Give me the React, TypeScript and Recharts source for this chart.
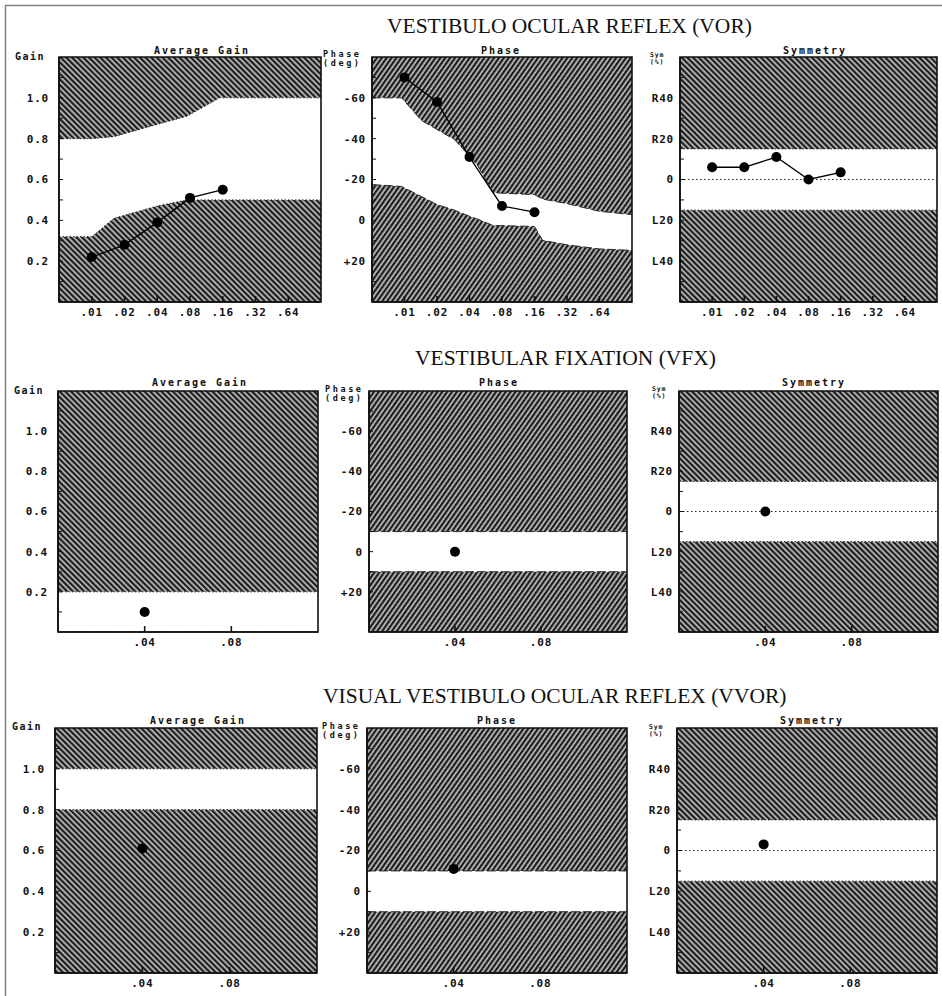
import React from 'react';
import {
  ComposedChart,
  Area,
  Line,
  XAxis,
  YAxis,
  CartesianGrid,
  ReferenceLine,
  ReferenceArea,
} from 'recharts';

// rotational chair sweep frequencies (Hz)
const vorFreqs = [0.01, 0.02, 0.04, 0.08, 0.16];
const vorTicks = [0.01, 0.02, 0.04, 0.08, 0.16, 0.32, 0.64];
const vorGain = [0.22, 0.28, 0.39, 0.51, 0.55];
const vorPhase = [-70, -58, -31, -7, -4];
const vorSym = [6, 6, 11, 0, 3.5];

// normal limits for the VOR sweep
const gainBandFreqs = [0.005, 0.01, 0.016, 0.04, 0.075, 0.15, 1.28];
const gainBandLow = [0.32, 0.32, 0.41, 0.47, 0.5, 0.5, 0.5];
const gainBandHigh = [0.8, 0.8, 0.81, 0.87, 0.91, 1.0, 1.0];

const phaseBandFreqs = [0.005, 0.0094, 0.0143, 0.02, 0.029, 0.04, 0.048, 0.066, 0.16, 0.19, 0.32, 0.64, 1.28];
const phaseBandLead = [-60, -60, -49, -44.5, -39.6, -31.4, -26.5, -13.5, -12.6, -10.4, -8.2, -4.4, -2.8];
const phaseBandLag = [-17.5, -16.6, -11.7, -7.7, -5, -2, -0.5, 2.5, 3, 9.8, 12, 14, 14.7];

// single frequency tests
const singleFreq = [0.04];
const linTicks = [0.04, 0.08];
const linBandFreqs = [0, 0.12];
const vfxGain = [0.1];
const vfxPhase = [0];
const vfxSym = [0];
const vvorGain = [0.61];
const vvorPhase = [-11];
const vvorSym = [3];
const vfxGainBand = [0, 0.2];
const vvorGainBand = [0.8, 1.0];
const fixedPhaseBand = [-10, 10];
const symBand = [-15, 15];

// y axes
const gainTicks = [0.2, 0.4, 0.6, 0.8, 1.0];
const gainMinor = [0.1, 0.2, 0.3, 0.4, 0.5, 0.6, 0.7, 0.8, 0.9, 1.0, 1.1];
const phaseTicks = [-60, -40, -20, 0, 20];
const phaseMinor = [-70, -60, -50, -40, -30, -20, -10, 0, 10, 20, 30];
const symTicks = [40, 20, 0, -20, -40];
const symMinor = [50, 40, 30, 20, 10, 0, -10, -20, -30, -40, -50];

const MONO = '"DejaVu Sans Mono", monospace';
const SERIF = '"Liberation Serif", "Times New Roman", serif';

const AXES = {
  gain: {
    domain: [0, 1.2],
    ticks: gainMinor,
    major: gainTicks,
    fmt: (v: number) => v.toFixed(1),
    reversed: false,
    pattern: 'hatchBack',
    gap: 10,
  },
  phase: {
    domain: [-80, 40],
    ticks: phaseMinor,
    major: phaseTicks,
    fmt: (v: number) => (v > 0 ? '+' + v : String(v)),
    reversed: true,
    pattern: 'hatchFwd',
    gap: 6,
  },
  sym: {
    domain: [-60, 60],
    ticks: symMinor,
    major: symTicks,
    fmt: (v: number) => (v > 0 ? 'R' + v : v < 0 ? 'L' + -v : '0'),
    reversed: false,
    pattern: 'hatchBack',
    gap: 6,
  },
};

const pts = (fs: number[], vs: number[]) => fs.map((f, i) => ({ f, v: vs[i] }));
const band = (fs: number[], lo: number[], hi: number[]) =>
  fs.map((f, i) => ({ f, range: [lo[i], hi[i]] }));
const flatBand = (lim: number[]) =>
  band(linBandFreqs, linBandFreqs.map(() => lim[0]), linBandFreqs.map(() => lim[1]));

type Kind = 'gain' | 'phase' | 'sym';

type PanelProps = {
  left: number;
  top: number;
  w: number;
  h: number;
  kind: Kind;
  log: boolean;
  bandData: { f: number; range: number[] }[];
  points: { f: number; v: number }[];
};

const tickStyle = { fill: '#111', fontSize: 11, fontFamily: MONO, fontWeight: 700, letterSpacing: 0.8 };
const axisLine = { stroke: '#111', strokeWidth: 1.6 };

const Panel = ({ left, top, w, h, kind, log, bandData, points }: PanelProps) => {
  const ax = AXES[kind];
  const ML = 60;
  const MT = 20;
  const MR = 5;
  const XH = 25;
  const xDomain = log ? [0.005, 1.28] : [0, 0.12];
  const xTicks = log ? vorTicks : linTicks;
  const xScale = log ? 'log' : 'linear';
  const dash = kind === 'phase' ? '9 3' : '1.5 2';
  return (
    <div style={{ position: 'absolute', left: left - ML, top: top - MT }}>
      <ComposedChart
        width={w + ML + MR}
        height={h + MT + XH}
        margin={{ top: MT, right: MR, bottom: 0, left: 0 }}
      >
        <CartesianGrid
          fill={`url(#${ax.pattern})`}
          fillOpacity={1}
          horizontal={false}
          vertical={false}
          stroke='none'
        />
        <XAxis
          dataKey='f'
          type='number'
          scale={xScale}
          domain={xDomain}
          ticks={xTicks}
          allowDataOverflow
          height={XH}
          axisLine={axisLine}
          tickLine={axisLine}
          tickSize={-6}
          tickMargin={12}
          tick={tickStyle}
          tickFormatter={(v: number) => v.toFixed(2).slice(1)}
        />
        <XAxis
          xAxisId='t'
          orientation='top'
          dataKey='f'
          type='number'
          scale={xScale}
          domain={xDomain}
          ticks={xTicks}
          allowDataOverflow
          height={0}
          mirror
          axisLine={axisLine}
          tickLine={{ stroke: '#111', strokeWidth: 1 }}
          tickSize={5}
          tick={false}
        />
        <YAxis
          type='number'
          domain={ax.domain}
          ticks={ax.ticks}
          reversed={ax.reversed}
          allowDataOverflow
          width={ML}
          axisLine={axisLine}
          tickLine={{ stroke: '#111', strokeWidth: 1 }}
          tickSize={-4}
          tickMargin={ax.gap + 4}
          tick={tickStyle}
          tickFormatter={(v: number) => (ax.major.includes(v) ? ax.fmt(v) : '')}
        />
        <YAxis
          yAxisId='r'
          orientation='right'
          type='number'
          domain={ax.domain}
          ticks={ax.ticks}
          reversed={ax.reversed}
          allowDataOverflow
          width={0}
          mirror
          axisLine={axisLine}
          tickLine={{ stroke: '#111', strokeWidth: 1 }}
          tickSize={5}
          tick={false}
        />
        <Area
          data={bandData}
          dataKey='range'
          type='linear'
          fill='#ffffff'
          fillOpacity={1}
          stroke='#2a2a2a'
          strokeWidth={1}
          strokeDasharray={dash}
          dot={false}
          activeDot={false}
          isAnimationActive={false}
        />
        {kind === 'sym' && (
          <ReferenceLine y={0} stroke='#222' strokeWidth={1} strokeDasharray='1.5 2.5' />
        )}
        <ReferenceArea
          x1={xDomain[0]}
          x2={xDomain[1]}
          y1={ax.domain[0]}
          y2={ax.domain[1]}
          fill='none'
          stroke='#111'
          strokeWidth={1.6}
          ifOverflow='visible'
        />
        <Line
          data={points}
          dataKey='v'
          type='linear'
          stroke='#000'
          strokeWidth={1.3}
          dot={{ r: 5, fill: '#000', stroke: '#000', strokeWidth: 0 }}
          activeDot={false}
          isAnimationActive={false}
        />
      </ComposedChart>
    </div>
  );
};

const Txt = ({ x, y, size, children, anchor = 'start', spacing = 0, family = MONO, weight = 700 }: any) => (
  <text
    x={x}
    y={y}
    fontSize={size}
    fontFamily={family}
    fontWeight={weight}
    letterSpacing={spacing}
    textAnchor={anchor}
    fill='#111'
  >
    {children}
  </text>
);

const AxisLabel = ({ kind, x, y }: { kind: Kind; x: number; y: number }) => {
  if (kind === 'gain')
    return <Txt x={x} y={y} size={10} spacing={1.5}>Gain</Txt>;
  if (kind === 'phase')
    return (
      <>
        <Txt x={x} y={y - 1} size={8.5} spacing={2.6}>Phase</Txt>
        <Txt x={x} y={y + 8} size={8.5} spacing={2.6}>(deg)</Txt>
      </>
    );
  return (
    <>
      <Txt x={x} y={y - 1} size={6.5} spacing={0.8}>Sym</Txt>
      <Txt x={x} y={y + 6} size={6.5} spacing={0.8}>(%)</Txt>
    </>
  );
};

const TITLES: Record<Kind, string> = { gain: 'Average Gain', phase: 'Phase', sym: 'Symmetry' };

const rows = [
  {
    heading: 'VESTIBULO OCULAR REFLEX (VOR)',
    hx: 387,
    hy: 33,
    titleY: 54,
    top: 57,
    h: 245,
    log: true,
    panels: [
      { kind: 'gain' as Kind, left: 59, w: 262, tx: 202, lx: 15, ly: 60,
        bandData: band(gainBandFreqs, gainBandLow, gainBandHigh), points: pts(vorFreqs, vorGain) },
      { kind: 'phase' as Kind, left: 372, w: 260, tx: 501, lx: 323, ly: 58,
        bandData: band(phaseBandFreqs, phaseBandLead, phaseBandLag), points: pts(vorFreqs, vorPhase) },
      { kind: 'sym' as Kind, left: 680, w: 257, tx: 815, lx: 650, ly: 58,
        bandData: band([0.005, 1.28], [symBand[0], symBand[0]], [symBand[1], symBand[1]]), points: pts(vorFreqs, vorSym) },
    ],
  },
  {
    heading: 'VESTIBULAR FIXATION (VFX)',
    hx: 415,
    hy: 365,
    titleY: 386,
    top: 391,
    h: 241,
    log: false,
    panels: [
      { kind: 'gain' as Kind, left: 58, w: 260, tx: 200, lx: 14, ly: 394,
        bandData: flatBand(vfxGainBand), points: pts(singleFreq, vfxGain) },
      { kind: 'phase' as Kind, left: 369, w: 258, tx: 499, lx: 325, ly: 393,
        bandData: flatBand(fixedPhaseBand), points: pts(singleFreq, vfxPhase) },
      { kind: 'sym' as Kind, left: 679, w: 259, tx: 814, lx: 652, ly: 392,
        bandData: flatBand(symBand), points: pts(singleFreq, vfxSym) },
    ],
  },
  {
    heading: 'VISUAL VESTIBULO OCULAR REFLEX (VVOR)',
    hx: 323,
    hy: 703,
    titleY: 724,
    top: 728,
    h: 245,
    log: false,
    panels: [
      { kind: 'gain' as Kind, left: 55, w: 262, tx: 198, lx: 12, ly: 730,
        bandData: flatBand(vvorGainBand), points: pts(singleFreq, vvorGain) },
      { kind: 'phase' as Kind, left: 367, w: 260, tx: 497, lx: 322, ly: 730,
        bandData: flatBand(fixedPhaseBand), points: pts(singleFreq, vvorPhase) },
      { kind: 'sym' as Kind, left: 677, w: 260, tx: 812, lx: 649, ly: 730,
        bandData: flatBand(symBand), points: pts(singleFreq, vvorSym) },
    ],
  },
];

export default function App() {
  return (
    <div style={{ position: 'absolute', left: 0, top: 0, width: 942, height: 996, background: '#fff', overflow: 'hidden' }}>
      <svg width={0} height={0} style={{ position: 'absolute' }}>
        <defs>
          <pattern id='hatchBack' width={4} height={4} patternUnits='userSpaceOnUse' patternTransform='rotate(-45)'>
            <rect width={4} height={4} fill='#8e8e8e' />
            <rect x={3} width={1} height={4} fill='#c4c4c4' />
            <rect width={2} height={4} fill='#1e1e1e' />
          </pattern>
          <pattern id='hatchFwd' width={4} height={4} patternUnits='userSpaceOnUse' patternTransform='rotate(35)'>
            <rect width={4} height={4} fill='#8e8e8e' />
            <rect x={3} width={1} height={4} fill='#c4c4c4' />
            <rect width={2} height={4} fill='#1e1e1e' />
          </pattern>
        </defs>
      </svg>
      {rows.map((row) =>
        row.panels.map((p) => (
          <Panel
            key={row.heading + p.kind}
            left={p.left}
            top={row.top}
            w={p.w}
            h={row.h}
            kind={p.kind}
            log={row.log}
            bandData={p.bandData}
            points={p.points}
          />
        )),
      )}
      <svg width={942} height={996} style={{ position: 'absolute', left: 0, top: 0, pointerEvents: 'none' }}>
        <line x1={5} y1={5.5} x2={942} y2={5.5} stroke='#808080' strokeWidth={1.5} />
        <line x1={5.5} y1={5} x2={5.5} y2={996} stroke='#808080' strokeWidth={1.5} />
        {rows.map((row) => (
          <g key={row.heading}>
            <Txt x={row.hx} y={row.hy} size={21.5} family={SERIF} weight={400}>
              {row.heading}
            </Txt>
            {row.panels.map((p) => (
              <g key={p.kind}>
                <Txt x={p.tx} y={row.titleY} size={10} spacing={2} anchor='middle'>
                  {TITLES[p.kind]}
                </Txt>
                <AxisLabel kind={p.kind} x={p.lx} y={p.ly} />
              </g>
            ))}
          </g>
        ))}
      </svg>
    </div>
  );
}
